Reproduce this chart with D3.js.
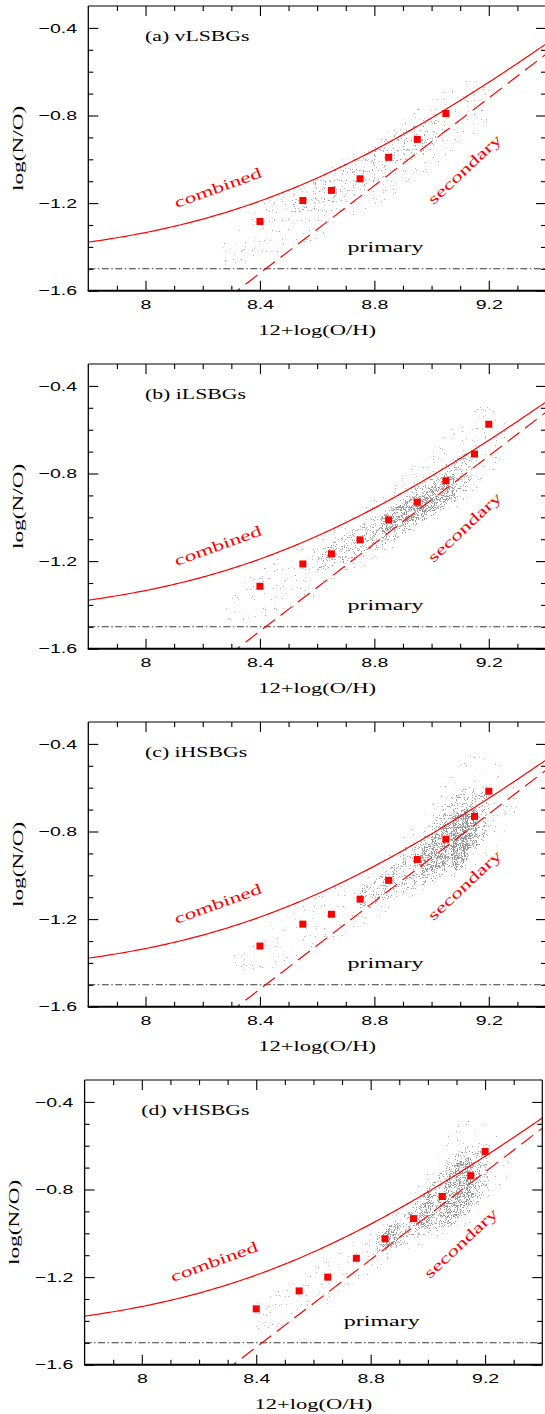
<!DOCTYPE html>
<html>
<head>
<meta charset="utf-8">
<script src="https://cdn.jsdelivr.net/npm/d3@7"></script>
<style>
  html, body { margin: 0; padding: 0; background: #fff; }
  svg { display: block; }
</style>
</head>
<body>
<svg id="chart" width="545" height="1414"></svg>
<script>
// ---- data -------------------------------------------------------------
const panelLabels = ["(a) vLSBGs", "(b) iLSBGs", "(c) iHSBGs", "(d) vHSBGs"];

// oxygen-abundance bins, 12+log(O/H)
const binOH = [8.4, 8.55, 8.65, 8.75, 8.85, 8.95, 9.05, 9.15, 9.2];

// median log(N/O) in each bin
const medianA = [-1.284, -1.188, -1.142, -1.089, -0.991, -0.909, -0.791];
const medianB = [-1.315, -1.213, -1.167, -1.103, -1.012, -0.931, -0.833, -0.711, -0.575];
const medianC = [-1.323, -1.223, -1.178, -1.109, -1.023, -0.928, -0.835, -0.731, -0.616];
const medianD = [-1.345, -1.263, -1.200, -1.114, -1.025, -0.933, -0.832, -0.737, -0.626];

// galaxy clouds: [12+log(O/H), lower log(N/O), upper log(N/O)] envelopes,
// outer (sparse) to inner (dense)
const cloudA1 = [[8.26,-1.48,-1.40],[8.34,-1.48,-1.30],[8.45,-1.44,-1.16],[8.60,-1.36,-1.06],[8.75,-1.26,-0.96],[8.90,-1.14,-0.82],[9.02,-1.02,-0.70],[9.12,-0.92,-0.64],[9.20,-0.82,-0.66]];
const cloudA2 = [[8.52,-1.25,-1.16],[8.64,-1.21,-1.06],[8.76,-1.13,-0.98],[8.88,-1.05,-0.88],[8.98,-0.98,-0.83],[9.04,-0.93,-0.82]];

const cloudB1 = [[8.28,-1.48,-1.40],[8.36,-1.47,-1.28],[8.50,-1.42,-1.16],[8.65,-1.32,-1.05],[8.80,-1.20,-0.92],[8.95,-1.06,-0.76],[9.08,-0.96,-0.58],[9.18,-0.84,-0.48],[9.26,-0.72,-0.54]];
const cloudB2 = [[8.60,-1.25,-1.16],[8.72,-1.20,-1.06],[8.85,-1.12,-0.96],[8.97,-1.02,-0.84],[9.07,-0.94,-0.74],[9.14,-0.86,-0.70]];
const cloudB3 = [[8.82,-1.08,-1.00],[8.92,-1.03,-0.92],[9.02,-0.96,-0.84],[9.08,-0.90,-0.80]];

const cloudC1 = [[8.30,-1.44,-1.36],[8.45,-1.42,-1.22],[8.60,-1.34,-1.10],[8.75,-1.24,-0.98],[8.88,-1.14,-0.86],[8.98,-1.06,-0.70],[9.07,-1.02,-0.52],[9.15,-0.96,-0.44],[9.23,-0.86,-0.48],[9.30,-0.74,-0.60]];
const cloudC2 = [[8.75,-1.15,-1.06],[8.85,-1.11,-0.97],[8.95,-1.06,-0.86],[9.04,-1.00,-0.70],[9.12,-0.92,-0.60],[9.20,-0.82,-0.63]];
const cloudC3 = [[8.96,-1.00,-0.90],[9.01,-0.98,-0.82],[9.06,-0.94,-0.74],[9.11,-0.90,-0.70],[9.16,-0.84,-0.70]];
const cloudC4 = [[9.07,-0.96,-0.88],[9.09,-0.98,-0.72],[9.12,-0.94,-0.70],[9.14,-0.86,-0.76]];

const cloudD1 = [[8.35,-1.44,-1.36],[8.50,-1.42,-1.24],[8.65,-1.32,-1.12],[8.78,-1.20,-1.00],[8.90,-1.10,-0.88],[9.00,-1.04,-0.72],[9.08,-1.00,-0.54],[9.15,-0.96,-0.46],[9.22,-0.86,-0.52],[9.29,-0.74,-0.62]];
const cloudD2 = [[8.82,-1.09,-1.00],[8.90,-1.06,-0.93],[9.00,-1.00,-0.80],[9.08,-0.97,-0.66],[9.15,-0.90,-0.60],[9.21,-0.80,-0.65]];
const cloudD3 = [[9.04,-0.95,-0.86],[9.07,-0.96,-0.74],[9.11,-0.92,-0.66],[9.16,-0.85,-0.66]];
const cloudD4 = [[8.84,-1.06,-1.01],[8.87,-1.07,-0.96],[8.90,-1.03,-0.96]];
const cloudD5 = [[8.97,-0.97,-0.90],[9.00,-0.98,-0.80],[9.02,-0.94,-0.84]];

const medians = [medianA, medianB, medianC, medianD];
const clouds = [[cloudA1, cloudA2], [cloudB1, cloudB2, cloudB3], [cloudC1, cloudC2, cloudC3, cloudC4], [cloudD1, cloudD2, cloudD3, cloudD4, cloudD5]];
// grain density used for each envelope (0 = faintest)
const cloudDensity = [[0, 1], [0, 2, 3], [0, 2, 3, 3], [0, 2, 3, 3, 3]];

// nitrogen model: primary plateau, secondary slope, and their combination
const primaryLevel = -1.5;
const secondaryOffset = -9.92;     // log(N/O) = 12+log(O/H) - 9.92
const combinedPrimary = -1.465;

// axes
const xDomain = [7.8, 9.4];
const yDomain = [-1.6, -0.3];
const xMajor = [8, 8.4, 8.8, 9.2];
const xMinor = [7.9, 8.1, 8.2, 8.3, 8.5, 8.6, 8.7, 8.9, 9.0, 9.1, 9.3];
const yMajor = [-1.6, -1.2, -0.8, -0.4];
const yMinor = [-1.5, -1.4, -1.3, -1.1, -1.0, -0.9, -0.7, -0.6, -0.5];

// ---- layout -----------------------------------------------------------
const panelTop = [6, 364, 722, 1080];
const panelShift = [0, 0, 0, -3.7];
const plotLeft = 88.3, plotRight = 546, plotH = 284.7;
const RED = "#ff0000";
const SERIF = "'Liberation Serif', 'Times New Roman', serif";
const SANS = "'Liberation Sans', Arial, sans-serif";

const svg = d3.select("#chart");
const defs = svg.append("defs");

// grain textures used to render the point clouds
function speckle(id, thr, gray, seed) {
  const K = 30;
  const f = defs.append("filter").attr("id", id)
    .attr("color-interpolation-filters", "sRGB");
  f.append("feTurbulence").attr("type", "fractalNoise")
    .attr("baseFrequency", 0.9).attr("numOctaves", 1).attr("seed", seed).attr("result", "n");
  f.append("feColorMatrix").attr("in", "n").attr("type", "matrix")
    .attr("values", `0 0 0 0 ${gray} 0 0 0 0 ${gray} 0 0 0 0 ${gray} 0 0 0 ${K} ${-K * thr}`)
    .attr("result", "d");
  f.append("feComposite").attr("in", "d").attr("in2", "SourceAlpha").attr("operator", "in");
}
const speckLevels = [
  { thr: 0.70, gray: 0.70 },
  { thr: 0.66, gray: 0.64 },
  { thr: 0.61, gray: 0.62 },
  { thr: 0.55, gray: 0.58 }
];
for (let p = 0; p < 4; p++) {
  for (let k = 0; k < clouds[p].length; k++) {
    const s = speckLevels[cloudDensity[p][k]];
    speckle(`sp${p}_${k}`, s.thr, s.gray, 7 + p * 7 + k);
  }
}

function stretch(sel, f) {
  sel.each(function () {
    const w = this.getComputedTextLength();
    this.setAttribute("textLength", w * f);
    this.setAttribute("lengthAdjust", "spacingAndGlyphs");
  });
}

medians.forEach((med, p) => {
  const g = svg.append("g")
    .attr("transform", `translate(${panelShift[p]},${panelTop[p]})`);

  const x = d3.scaleLinear().domain(xDomain).range([plotLeft, plotRight]);
  const y = d3.scaleLinear().domain(yDomain).range([plotH, 0]);

  const clipId = `clip${p}`;
  defs.append("clipPath").attr("id", clipId)
    .append("rect").attr("x", plotLeft).attr("y", 0)
    .attr("width", plotRight - plotLeft).attr("height", plotH);

  const plot = g.append("g").attr("clip-path", `url(#${clipId})`);

  // point cloud
  const area = d3.area()
    .x(d => x(d[0])).y0(d => y(d[1])).y1(d => y(d[2]))
    .curve(d3.curveCatmullRom.alpha(0.5));
  clouds[p].forEach((env, k) => {
    plot.append("path").attr("d", area(env))
      .attr("fill", "#000")
      .attr("filter", `url(#sp${p}_${k})`);
  });

  // primary plateau
  plot.append("line")
    .attr("x1", x(xDomain[0])).attr("x2", x(xDomain[1]))
    .attr("y1", y(primaryLevel)).attr("y2", y(primaryLevel))
    .attr("stroke", "#3a3a3a").attr("stroke-width", 1.1)
    .attr("stroke-dasharray", "7,2.5,1.5,2.5");

  // secondary
  const sec = oh => oh + secondaryOffset;
  plot.append("line")
    .attr("x1", x(xDomain[0])).attr("y1", y(sec(xDomain[0])))
    .attr("x2", x(xDomain[1])).attr("y2", y(sec(xDomain[1])))
    .attr("stroke", RED).attr("stroke-width", 1.2)
    .attr("stroke-dasharray", "15,7");

  // combined
  const ohGrid = d3.range(xDomain[0], xDomain[1] + 1e-9, 0.01);
  const comb = oh => Math.log10(Math.pow(10, combinedPrimary) + Math.pow(10, sec(oh)));
  plot.append("path")
    .attr("d", d3.line().x(d => x(d)).y(d => y(comb(d)))(ohGrid))
    .attr("fill", "none").attr("stroke", RED).attr("stroke-width", 1.2);

  // bin medians
  const sq = 7;
  plot.selectAll("rect.med").data(med).join("rect")
    .attr("class", "med")
    .attr("x", (d, i) => x(binOH[i]) - sq / 2)
    .attr("y", d => y(d) - sq / 2)
    .attr("width", sq).attr("height", sq)
    .attr("fill", RED);

  // ticks
  const tickStyle = sel => {
    sel.select(".domain").remove();
    sel.selectAll(".tick line").attr("stroke", "#000").attr("stroke-width", 1.1);
  };
  const bottom = g.append("g").attr("transform", `translate(0,${plotH})`)
    .call(d3.axisBottom(x).tickValues(xMajor).tickSizeInner(-10).tickSizeOuter(0)
      .tickPadding(9.5).tickFormat(d3.format("")))
    .call(tickStyle);
  bottom.selectAll("text").attr("font-family", SANS).attr("font-size", 13).attr("fill", "#000");
  stretch(bottom.selectAll("text"), 1.5);
  g.append("g").attr("transform", `translate(0,${plotH})`)
    .call(d3.axisBottom(x).tickValues(xMinor).tickSizeInner(-5).tickSizeOuter(0).tickFormat(""))
    .call(tickStyle);
  g.append("g")
    .call(d3.axisTop(x).tickValues(xMajor).tickSizeInner(-10).tickSizeOuter(0).tickFormat(""))
    .call(tickStyle);
  g.append("g")
    .call(d3.axisTop(x).tickValues(xMinor).tickSizeInner(-5).tickSizeOuter(0).tickFormat(""))
    .call(tickStyle);

  const left = g.append("g").attr("transform", `translate(${plotLeft},0)`)
    .call(d3.axisLeft(y).tickValues(yMajor).tickSizeInner(-10).tickSizeOuter(0)
      .tickPadding(11.3).tickFormat(d3.format("")))
    .call(tickStyle);
  left.selectAll("text").attr("font-family", SANS).attr("font-size", 13).attr("fill", "#000");
  stretch(left.selectAll("text"), 1.5);
  g.append("g").attr("transform", `translate(${plotLeft},0)`)
    .call(d3.axisLeft(y).tickValues(yMinor).tickSizeInner(-5).tickSizeOuter(0).tickFormat(""))
    .call(tickStyle);
  g.append("g").attr("transform", `translate(${plotRight},0)`)
    .call(d3.axisRight(y).tickValues(yMajor).tickSizeInner(-10).tickSizeOuter(0).tickFormat(""))
    .call(tickStyle);
  g.append("g").attr("transform", `translate(${plotRight},0)`)
    .call(d3.axisRight(y).tickValues(yMinor).tickSizeInner(-5).tickSizeOuter(0).tickFormat(""))
    .call(tickStyle);

  // frame
  const frame = [
    [plotLeft, 0, plotLeft, plotH, 1.3],
    [plotLeft, 0, plotRight, 0, 1.2],
    [plotRight, 0, plotRight, plotH, 1.2],
    [plotLeft - 0.6, plotH, plotRight, plotH, 2]
  ];
  g.selectAll("line.frame").data(frame).join("line")
    .attr("class", "frame")
    .attr("x1", d => d[0]).attr("y1", d => d[1])
    .attr("x2", d => d[2]).attr("y2", d => d[3])
    .attr("stroke", "#000").attr("stroke-width", d => d[4]);

  // axis titles
  const xt = g.append("text")
    .attr("x", (plotLeft + plotRight) / 2).attr("y", 329)
    .attr("text-anchor", "middle")
    .attr("font-family", SERIF).attr("font-size", 15).attr("fill", "#000")
    .text("12+log(O/H)");
  stretch(xt, 1.5);
  const yt = g.append("text")
    .attr("transform", `translate(22.5,${plotH / 2}) rotate(-90)`)
    .attr("text-anchor", "middle")
    .attr("font-family", SERIF).attr("font-size", 15).attr("fill", "#000")
    .text("log(N/O)");
  stretch(yt, 1.55);

  // annotations
  const title = g.append("text")
    .attr("x", 145).attr("y", 34.5)
    .attr("font-family", SERIF).attr("font-size", 15).attr("fill", "#000")
    .text(panelLabels[p]);
  stretch(title, 1.45);

  const prim = g.append("text")
    .attr("x", 385.5).attr("y", 245.7).attr("text-anchor", "middle")
    .attr("font-family", SERIF).attr("font-size", 15).attr("fill", "#000")
    .text("primary");
  stretch(prim, 1.6);

  const combT = g.append("text")
    .attr("transform", "translate(219.6,186.4) rotate(-20)")
    .attr("text-anchor", "middle")
    .attr("font-family", SERIF).attr("font-size", 15).attr("fill", RED)
    .text("combined");
  stretch(combT, 1.55);

  const secT = g.append("text")
    .attr("transform", "translate(468,167) rotate(-43)")
    .attr("text-anchor", "middle")
    .attr("font-family", SERIF).attr("font-size", 15).attr("fill", RED)
    .text("secondary");
  stretch(secT, 1.55);
});
</script>
</body>
</html>
